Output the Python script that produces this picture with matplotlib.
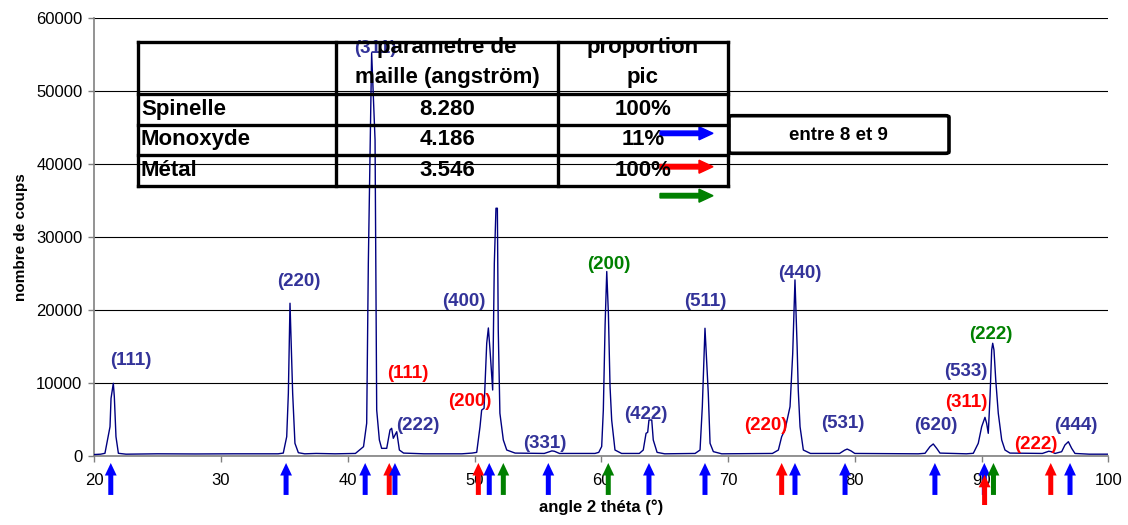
import matplotlib
matplotlib.use('Agg')
import matplotlib.pyplot as plt
from matplotlib.lines import Line2D
from matplotlib.patches import FancyBboxPatch, FancyArrow

plt.rcParams['font.family'] = ['Liberation Sans', 'DejaVu Sans']

# traced diffractogram (2 theta in degrees, counts)
two_theta = [20.0, 20.5, 20.84, 21.24, 21.32, 21.5, 21.58, 21.71, 21.9, 22.5, 25, 28, 31, 34.5,
             34.91, 35.18, 35.31, 35.44, 35.65, 35.83, 36.1, 36.6, 37.5, 39, 40.6,
             41.24, 41.49, 41.62, 41.88, 42.15, 42.28, 42.49, 42.67, 43.07, 43.33, 43.46, 43.59,
             43.86, 44.07, 44.4, 46, 49, 49.8, 50.17, 50.43, 50.56, 50.75, 50.96, 51.09, 51.22,
             51.43, 51.56, 51.69, 51.8, 51.87, 52.0, 52.27, 52.54, 53.2, 55.5, 56.1, 56.3, 56.7,
             59.5, 59.8, 60.03, 60.16, 60.3, 60.43, 60.56, 60.69, 60.82, 61.08, 61.6, 63.0,
             63.31, 63.53, 63.66, 63.76, 63.98, 64.1, 64.4, 65, 67.4, 67.79, 67.97, 68.18, 68.44,
             68.58, 68.84, 69.5, 73.5, 73.97, 74.23, 74.49, 74.89, 75.1, 75.28, 75.45, 75.54,
             75.68, 75.94, 76.5, 78.8, 79.2, 79.4, 79.7, 80.0, 85.0, 85.54, 85.93, 86.19, 86.46,
             86.72, 88.8, 89.35, 89.74, 90.01, 90.27, 90.4, 90.53, 90.67, 90.8, 90.88, 90.98,
             91.12, 91.32, 91.59, 91.85, 92.24, 94.8, 95.3, 95.5, 95.8, 96.32, 96.58, 96.85,
             97.11, 97.37, 98.5, 100]
counts = [200, 250, 370, 4020, 7900, 9970, 8130, 2650, 370, 250, 300, 280, 300, 300,
          400, 2650, 8600, 20950, 8600, 1740, 450, 300, 350, 300, 350,
          1280, 4500, 26500, 55300, 43350, 6300, 2200, 1050, 1050, 3570, 3800, 2430,
          3330, 820, 400, 300, 300, 400, 500, 4000, 6300, 6540, 15460, 17560, 14540,
          9050, 26440, 33980, 33980, 17290, 5860, 2200, 820, 400, 350, 700, 650, 350,
          350, 500, 1300, 6300, 18000, 25300, 19500, 9500, 4900, 820, 350, 350,
          820, 3110, 3250, 4940, 4940, 2200, 500, 300, 350, 820, 6770, 17520, 8600,
          1740, 600, 300, 350, 820, 2650, 3570, 6770, 14000, 24150, 15000, 9000,
          4020, 820, 350, 350, 800, 950, 700, 350, 300, 370, 1280, 1650, 1050,
          400, 300, 370, 1740, 4020, 5300, 4490, 3110, 8140, 14540, 15460, 14540,
          10430, 5860, 2200, 820, 400, 350, 650, 590, 350, 590, 1510, 1960,
          1050, 350, 250, 250]

# peak labels: text, 2theta, counts, phase
peak_text = ['(111)', '(220)', '(311)', '(111)', '(222)', '(400)', '(200)', '(331)', '(200)', '(422)',
             '(511)', '(220)', '(440)', '(531)', '(620)', '(533)', '(311)', '(222)', '(222)', '(444)']
peak_x = [22.92, 36.15, 42.18, 44.73, 45.52, 49.18, 49.6, 55.56, 60.6, 63.49,
          68.24, 72.95, 75.67, 79.07, 86.37, 88.76, 88.77, 90.74, 94.28, 97.44]
peak_y = [13030, 23900, 55930, 11340, 4250, 21170, 7410, 1740, 26200, 5630,
          21170, 4250, 25070, 4390, 4120, 11520, 7270, 16600, 1510, 4120]
peak_phase = ['S', 'S', 'S', 'M', 'S', 'S', 'M', 'S', 'X', 'S',
              'S', 'M', 'S', 'S', 'S', 'S', 'M', 'X', 'M', 'S']

# reference line positions shown as arrows under the axis
spinelle_pos = [21.3, 35.13, 41.37, 43.72, 51.16, 55.82, 63.76, 68.18, 75.28, 79.23, 86.32, 90.22, 96.98]
monoxyde_pos = [43.27, 50.3, 74.23, 90.24, 95.46]
metal_pos = [52.27, 60.55, 90.94]

phases = ['Spinelle', 'Monoxyde', 'Métal']
parametre = ['8.280', '4.186', '3.546']
proportion = ['100%', '11%', '100%']

label_col = {'S': '#333399', 'M': '#ff0000', 'X': '#008000'}
arrow_col = {'S': '#0000ff', 'M': '#ff0000', 'X': '#008000'}

W, H = 1128, 525
fig = plt.figure(figsize=(W / 100, H / 100), dpi=100)
ax = fig.add_axes([94.3 / W, (H - 456) / H, (1108.3 - 94.3) / W, (456 - 18.5) / H])


def fp(x, y):
  return x / W, 1 - y / H


ax.plot(two_theta, counts, color='#000080', lw=1.0, zorder=3)
ax.set_xlim(20, 100)
ax.set_ylim(0, 60000)
ax.set_xticks(range(20, 101, 10))
ax.set_yticks(range(0, 60001, 10000))
ax.yaxis.grid(True, color='black', lw=0.8)
ax.set_axisbelow(True)
for s in ['top', 'right']:
  ax.spines[s].set_visible(False)
for s in ['left', 'bottom']:
  ax.spines[s].set_color('#808080')
  ax.spines[s].set_linewidth(1.2)
ax.tick_params(axis='both', colors='#808080', labelcolor='black', labelsize=12, width=1, length=4)
ax.tick_params(axis='x', pad=8.5)
ax.tick_params(axis='y', pad=4.5)
ax.set_xlabel('angle 2 théta (°)', fontsize=12, fontweight='bold', labelpad=8)
ax.set_ylabel('nombre de coups', fontsize=11, fontweight='bold', labelpad=6)

for t, x, y, p in zip(peak_text, peak_x, peak_y, peak_phase):
  ax.text(x, y, t, color=label_col[p], fontsize=13.5, fontweight='bold',
          ha='center', va='center', zorder=4)


def up_arrow(x, color, y0=-0.089, y1=-0.016):
  ax.annotate('', xy=(x, y1), xytext=(x, y0), xycoords=('data', 'axes fraction'),
              textcoords=('data', 'axes fraction'), annotation_clip=False,
              arrowprops=dict(facecolor=color, edgecolor='none', width=3.6,
                              headwidth=8.5, headlength=9, shrink=0))


lowered = 90.24
for x in monoxyde_pos:
  if x != lowered:
    up_arrow(x, arrow_col['M'])
for x in spinelle_pos:
  up_arrow(x, arrow_col['S'])
up_arrow(lowered, arrow_col['M'], -0.112, -0.043)
for x in metal_pos:
  up_arrow(x, arrow_col['X'])

# table overlay
cols = [137.7, 335.7, 558, 728]
rows = [41.5, 94.5, 125, 155, 185.7]
for c in cols:
  fig.add_artist(Line2D([c / W] * 2, [1 - rows[0] / H, 1 - rows[-1] / H], color='black', lw=2.4,
                        solid_capstyle='projecting'))
for r in rows:
  fig.add_artist(Line2D([cols[0] / W, cols[-1] / W], [1 - r / H] * 2, color='black', lw=2.4,
                        solid_capstyle='projecting'))

tkw = dict(fontsize=16, fontweight='bold', color='black', va='center')
fig.text(*fp(447, 48), 'parametre de', ha='center', **tkw)
fig.text(*fp(447, 78), 'maille (angström)', ha='center', **tkw)
fig.text(*fp(643, 48), 'proportion', ha='center', **tkw)
fig.text(*fp(643, 78), 'pic', ha='center', **tkw)
for i, (ph, pa, pr) in enumerate(zip(phases, parametre, proportion)):
  yc = (rows[i + 1] + rows[i + 2]) / 2
  fig.text(*fp(141, yc), ph, ha='left', **tkw)
  fig.text(*fp(447, yc), pa, ha='center', **tkw)
  fig.text(*fp(643, yc), pr, ha='center', **tkw)

# legend arrows next to the table
for yy, p in zip([133.3, 166.7, 195.7], ['S', 'M', 'X']):
  fig.add_artist(FancyArrow(
    660 / W, 1 - yy / H, 53 / W, 0, width=4.5 / H, head_width=13 / H, head_length=14 / W,
    length_includes_head=True, color=arrow_col[p], transform=fig.transFigure))

box = FancyBboxPatch(fp(729, 153.3), (949 - 729) / W, (153.3 - 115.7) / H,
                     boxstyle='round,pad=0,rounding_size=0.003', transform=fig.transFigure,
                     facecolor='white', edgecolor='black', lw=2.6)
fig.add_artist(box)
fig.text(*fp(838, 135), 'entre 8 et 9', ha='center', va='center', fontsize=13.5, fontweight='bold')

fig.savefig('out.png', dpi=100)
